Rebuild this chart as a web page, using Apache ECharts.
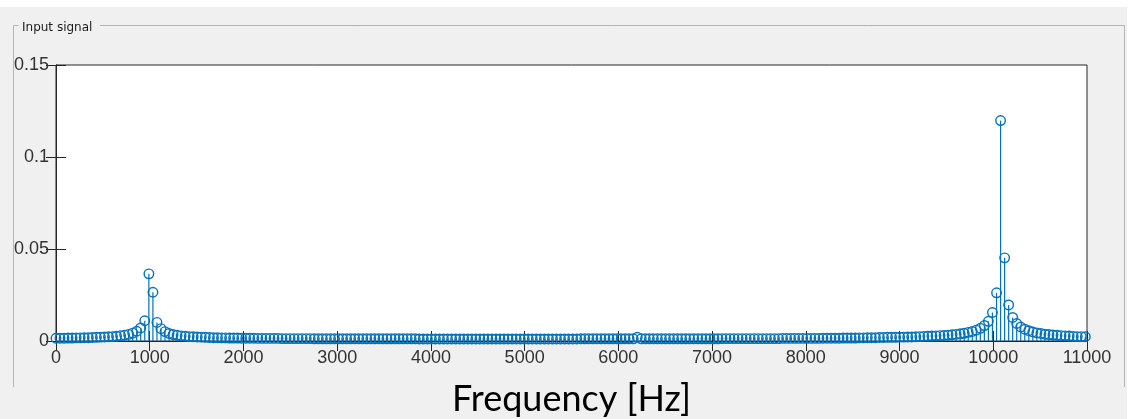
<!DOCTYPE html>
<html>
<head>
<meta charset="utf-8">
<script src="https://cdn.jsdelivr.net/npm/echarts@6/dist/echarts.min.js"></script>
<style>
html,body{margin:0;padding:0;background:#f0f0f0;}
#chart{width:1130px;height:419px;}
</style>
</head>
<body>
<div id="chart"></div>
<script>
// Frequency bins (Hz)
const freqHz = [
0,43,86,129,172,215,258,301,345,388,
431,474,517,560,603,646,689,732,775,818,
861,904,947,991,1034,1077,1120,1163,1206,1249,
1292,1335,1378,1421,1464,1507,1550,1593,1637,1680,
1723,1766,1809,1852,1895,1938,1981,2024,2067,2110,
2153,2196,2239,2283,2326,2369,2412,2455,2498,2541,
2584,2627,2670,2713,2756,2799,2842,2885,2929,2972,
3015,3058,3101,3144,3187,3230,3273,3316,3359,3402,
3445,3488,3531,3575,3618,3661,3704,3747,3790,3833,
3876,3919,3962,4005,4048,4091,4134,4177,4221,4264,
4307,4350,4393,4436,4479,4522,4565,4608,4651,4694,
4737,4780,4823,4867,4910,4953,4996,5039,5082,5125,
5168,5211,5254,5297,5340,5383,5426,5469,5513,5556,
5599,5642,5685,5728,5771,5814,5857,5900,5943,5986,
6029,6072,6115,6159,6202,6245,6288,6331,6374,6417,
6460,6503,6546,6589,6632,6675,6718,6761,6805,6848,
6891,6934,6977,7020,7063,7106,7149,7192,7235,7278,
7321,7364,7407,7451,7494,7537,7580,7623,7666,7709,
7752,7795,7838,7881,7924,7967,8010,8053,8097,8140,
8183,8226,8269,8312,8355,8398,8441,8484,8527,8570,
8613,8656,8699,8743,8786,8829,8872,8915,8958,9001,
9044,9087,9130,9173,9216,9259,9302,9345,9389,9432,
9475,9518,9561,9604,9647,9690,9733,9776,9819,9862,
9905,9948,9991,10035,10078,10121,10164,10207,10250,10293,
10336,10379,10422,10465,10508,10551,10594,10637,10680,10723,
10767,10810,10853,10896,10939,10982
];
// Magnitude at each bin
const magnitude = [
0.0015,0.0015,0.0015,0.0016,0.0016,0.0017,0.0017,0.0018,0.0018,0.0019,
0.0020,0.0021,0.0022,0.0023,0.0024,0.0026,0.0029,0.0032,0.0036,0.0043,
0.0053,0.0071,0.0110,0.0365,0.0265,0.0101,0.0067,0.0051,0.0041,0.0035,
0.0031,0.0028,0.0026,0.0024,0.0023,0.0022,0.0021,0.0020,0.0019,0.0018,
0.0018,0.0017,0.0017,0.0016,0.0016,0.0016,0.0015,0.0015,0.0015,0.0015,
0.0014,0.0014,0.0014,0.0014,0.0014,0.0014,0.0013,0.0013,0.0013,0.0013,
0.0013,0.0013,0.0013,0.0013,0.0012,0.0012,0.0012,0.0012,0.0012,0.0012,
0.0012,0.0012,0.0012,0.0012,0.0012,0.0012,0.0012,0.0012,0.0012,0.0012,
0.0012,0.0012,0.0012,0.0012,0.0012,0.0012,0.0012,0.0012,0.0012,0.0012,
0.0011,0.0011,0.0011,0.0011,0.0011,0.0011,0.0011,0.0011,0.0011,0.0011,
0.0011,0.0011,0.0011,0.0011,0.0011,0.0011,0.0011,0.0011,0.0011,0.0011,
0.0011,0.0011,0.0011,0.0011,0.0011,0.0011,0.0011,0.0011,0.0011,0.0011,
0.0011,0.0011,0.0011,0.0011,0.0011,0.0011,0.0011,0.0011,0.0011,0.0011,
0.0012,0.0012,0.0012,0.0012,0.0012,0.0012,0.0012,0.0012,0.0012,0.0012,
0.0012,0.0012,0.0012,0.0012,0.0020,0.0012,0.0012,0.0012,0.0012,0.0012,
0.0012,0.0012,0.0012,0.0012,0.0012,0.0012,0.0012,0.0012,0.0012,0.0012,
0.0012,0.0012,0.0012,0.0012,0.0012,0.0013,0.0013,0.0013,0.0013,0.0013,
0.0013,0.0013,0.0013,0.0013,0.0013,0.0013,0.0013,0.0013,0.0013,0.0013,
0.0014,0.0014,0.0014,0.0014,0.0014,0.0014,0.0014,0.0014,0.0014,0.0014,
0.0015,0.0015,0.0015,0.0015,0.0015,0.0016,0.0016,0.0016,0.0016,0.0017,
0.0017,0.0018,0.0018,0.0018,0.0019,0.0019,0.0020,0.0020,0.0020,0.0021,
0.0021,0.0022,0.0022,0.0023,0.0024,0.0025,0.0026,0.0027,0.0028,0.0029,
0.0030,0.0032,0.0034,0.0036,0.0039,0.0042,0.0047,0.0052,0.0059,0.0069,
0.0084,0.0107,0.0155,0.0262,0.1198,0.0452,0.0196,0.0128,0.0095,0.0076,
0.0064,0.0056,0.0049,0.0044,0.0041,0.0037,0.0035,0.0033,0.0031,0.0029,
0.0028,0.0027,0.0025,0.0024,0.0024,0.0023
];
const panelTitle = 'Input signal';
const xLabel = 'Frequency [Hz]';
const xTicks = {min: 0, max: 11000, interval: 1000};
const yTicks = {min: 0, max: 0.15, interval: 0.05};

const points = freqHz.map((f, i) => [f, magnitude[i]]);
const stemColor = '#0072BD';
const axisColor = '#262626';
const labelFont = {color: '#333', fontFamily: 'Liberation Sans', fontSize: 18};

const chart = echarts.init(document.getElementById('chart'), null, {renderer: 'canvas'});
const tickCommon = {show: true, inside: true, length: 10, lineStyle: {color: axisColor, width: 1}};
const fmtY = v => String(parseFloat(v.toFixed(2)));
const fmtX = v => String(Math.round(v));

chart.setOption({
  animation: false,
  backgroundColor: '#f0f0f0',
  graphic: [
    {type: 'rect', shape: {x: 0, y: 0, width: 1130, height: 7}, style: {fill: '#ffffff'}, silent: true, z: -10},
    {type: 'rect', shape: {x: 1127, y: 0, width: 3, height: 419}, style: {fill: '#ffffff'}, silent: true, z: -10},
    {type: 'polyline', shape: {points: [[18.5, 25.5], [13.5, 25.5], [13.5, 387]]}, style: {stroke: '#b4b4b4', lineWidth: 1, fill: null}, silent: true},
    {type: 'polyline', shape: {points: [[100, 25.5], [1124.5, 25.5], [1124.5, 387]]}, style: {stroke: '#b4b4b4', lineWidth: 1, fill: null}, silent: true},
    {type: 'text', x: 22, y: 28, style: {text: panelTitle, fontFamily: 'DejaVu Sans', fontSize: 12, fill: '#1a1a1a', verticalAlign: 'middle', align: 'left'}, silent: true}
  ],
  grid: {left: 56, right: 43, top: 65, bottom: 78, containLabel: false, outerBoundsMode: 'none',
         show: true, backgroundColor: '#ffffff', borderColor: axisColor, borderWidth: 1},
  xAxis: [
    {type: 'value', position: 'bottom', min: xTicks.min, max: xTicks.max, interval: xTicks.interval,
     axisLine: {show: true, onZero: false, lineStyle: {color: axisColor}}, axisTick: tickCommon,
     axisLabel: Object.assign({margin: 8, formatter: fmtX}, labelFont), splitLine: {show: false},
     name: xLabel, nameLocation: 'middle', nameGap: 40,
     nameTextStyle: {fontFamily: 'Lato', fontSize: 36, color: '#000'}},
    {type: 'value', position: 'top', min: xTicks.min, max: xTicks.max, interval: xTicks.interval,
     axisLine: {show: true, lineStyle: {color: axisColor}}, axisTick: tickCommon,
     axisLabel: {show: false}, splitLine: {show: false}}
  ],
  yAxis: [
    {type: 'value', position: 'left', min: yTicks.min, max: yTicks.max, interval: yTicks.interval,
     axisLine: {show: true, onZero: false, lineStyle: {color: axisColor}}, axisTick: tickCommon,
     axisLabel: Object.assign({margin: 7, formatter: fmtY}, labelFont), splitLine: {show: false}},
    {type: 'value', position: 'right', min: yTicks.min, max: yTicks.max, interval: yTicks.interval,
     axisLine: {show: true, lineStyle: {color: axisColor}}, axisTick: tickCommon,
     axisLabel: {show: false}, splitLine: {show: false}}
  ],
  series: [
    {
      type: 'custom', xAxisIndex: 0, yAxisIndex: 0, data: points, clip: true, silent: true,
      renderItem: function (params, api) {
        const p0 = api.coord([api.value(0), 0]);
        const p1 = api.coord([api.value(0), api.value(1)]);
        return {type: 'line', shape: {x1: p0[0], y1: p0[1], x2: p1[0], y2: p1[1]},
                style: {stroke: stemColor, lineWidth: 1.2}};
      },
      z: 2
    },
    {
      type: 'scatter', xAxisIndex: 0, yAxisIndex: 0, data: points, symbol: 'circle', symbolSize: 9.5,
      itemStyle: {color: 'rgba(0,0,0,0)', borderColor: stemColor, borderWidth: 1.4, opacity: 1},
      silent: true, z: 3
    }
  ]
});
</script>
</body>
</html>
